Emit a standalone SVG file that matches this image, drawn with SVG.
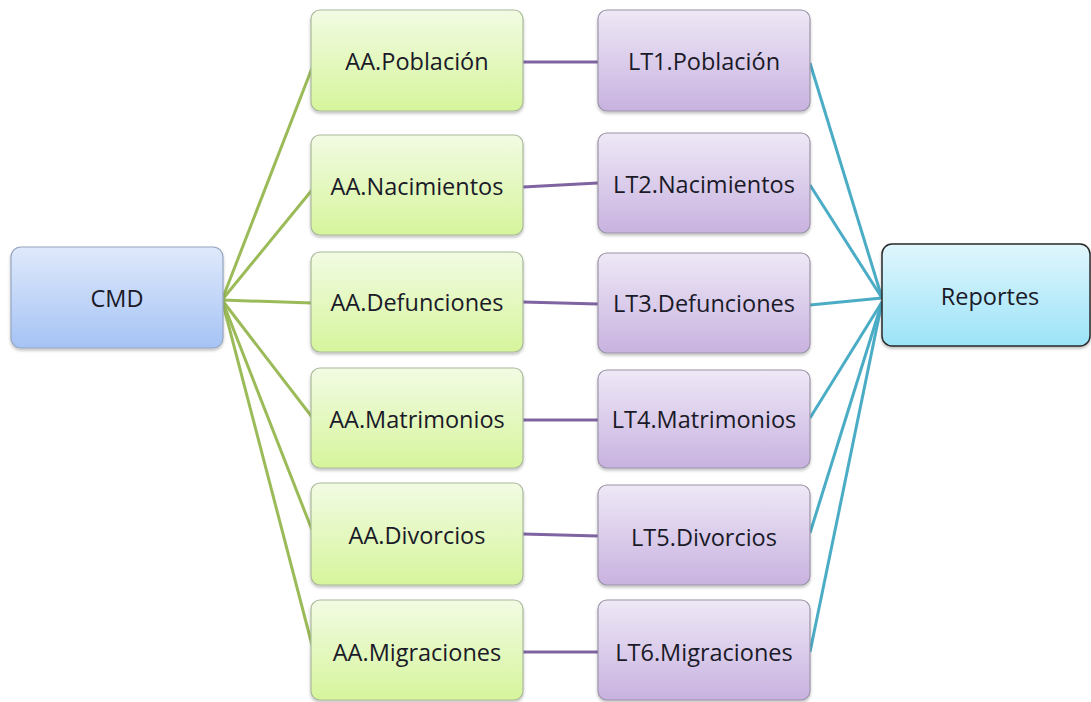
<svg xmlns="http://www.w3.org/2000/svg" width="1091" height="702" viewBox="0 0 1091 702">
<defs>
<linearGradient id="gBlue" x1="0" y1="0" x2="0" y2="1"><stop offset="0" stop-color="#dfe9fb"/><stop offset="1" stop-color="#a5c3f5"/></linearGradient>
<linearGradient id="gGreen" x1="0" y1="0" x2="0" y2="1"><stop offset="0" stop-color="#f2fbe3"/><stop offset="1" stop-color="#d6f59c"/></linearGradient>
<linearGradient id="gPurple" x1="0" y1="0" x2="0" y2="1"><stop offset="0" stop-color="#eee8f6"/><stop offset="1" stop-color="#c8b2e0"/></linearGradient>
<linearGradient id="gCyan" x1="0" y1="0" x2="0" y2="1"><stop offset="0" stop-color="#e0f6fd"/><stop offset="1" stop-color="#9ce3f8"/></linearGradient>
<filter id="sh" x="-10%" y="-10%" width="120%" height="130%"><feDropShadow dx="0" dy="2" stdDeviation="1.5" flood-color="#000" flood-opacity="0.25"/></filter>
</defs>
<style>
text{font-family:"Open Sans","Liberation Sans",sans-serif;font-size:23.5px;fill:#1a1a28;text-anchor:middle;dominant-baseline:central}
.b{stroke-width:1.2;filter:url(#sh)}
.aa{fill:url(#gGreen);stroke:#a9b99a}
.lt{fill:url(#gPurple);stroke:#9c94a8}
.cg{stroke:#9bbb59;stroke-width:3;fill:none}
.cp{stroke:#8064a2;stroke-width:3;fill:none}
.cb{stroke:#4bacc6;stroke-width:3;fill:none}
</style>
<rect width="1091" height="702" fill="#ffffff"/>
<g id="connectors">
<line class="cg" x1="222" y1="300" x2="312" y2="68"/>
<line class="cg" x1="222" y1="300" x2="312" y2="190"/>
<line class="cg" x1="222" y1="300" x2="312" y2="303"/>
<line class="cg" x1="222" y1="300" x2="312" y2="417"/>
<line class="cg" x1="222" y1="300" x2="312" y2="530"/>
<line class="cg" x1="222" y1="300" x2="312" y2="645"/>
<line class="cp" x1="523" y1="62" x2="598" y2="62"/>
<line class="cp" x1="523" y1="187" x2="598" y2="183"/>
<line class="cp" x1="523" y1="302" x2="598" y2="304"/>
<line class="cp" x1="523" y1="420" x2="598" y2="420"/>
<line class="cp" x1="523" y1="534" x2="598" y2="536"/>
<line class="cp" x1="523" y1="652" x2="598" y2="652"/>
<line class="cb" x1="810" y1="63" x2="882" y2="298"/>
<line class="cb" x1="810" y1="185" x2="882" y2="298"/>
<line class="cb" x1="810" y1="305" x2="882" y2="298"/>
<line class="cb" x1="810" y1="418" x2="882" y2="302"/>
<line class="cb" x1="810" y1="533" x2="882" y2="302"/>
<line class="cb" x1="810" y1="652" x2="882" y2="302"/>
</g>
<g id="cmd"><rect class="b" x="11" y="247" width="212" height="101" rx="10" fill="url(#gBlue)" stroke="#95a6c0"/><text x="117" y="298">CMD</text></g>
<g id="aa-poblacion"><rect class="b aa" x="311" y="10" width="212" height="101" rx="9"/><text x="417" y="61">AA.Población</text></g>
<g id="aa-nacimientos"><rect class="b aa" x="311" y="135" width="212" height="100" rx="9"/><text x="417" y="186">AA.Nacimientos</text></g>
<g id="aa-defunciones"><rect class="b aa" x="311" y="252" width="212" height="100" rx="9"/><text x="417" y="302">AA.Defunciones</text></g>
<g id="aa-matrimonios"><rect class="b aa" x="311" y="368" width="212" height="100" rx="9"/><text x="417" y="419">AA.Matrimonios</text></g>
<g id="aa-divorcios"><rect class="b aa" x="311" y="483" width="212" height="102" rx="9"/><text x="417" y="535">AA.Divorcios</text></g>
<g id="aa-migraciones"><rect class="b aa" x="311" y="600" width="212" height="100" rx="9"/><text x="417" y="652">AA.Migraciones</text></g>
<g id="lt1"><rect class="b lt" x="598" y="10" width="212" height="101" rx="9"/><text x="704" y="61">LT1.Población</text></g>
<g id="lt2"><rect class="b lt" x="598" y="133" width="212" height="100" rx="9"/><text x="704" y="184">LT2.Nacimientos</text></g>
<g id="lt3"><rect class="b lt" x="598" y="253" width="212" height="100" rx="9"/><text x="704" y="303">LT3.Defunciones</text></g>
<g id="lt4"><rect class="b lt" x="598" y="370" width="212" height="98" rx="9"/><text x="704" y="419">LT4.Matrimonios</text></g>
<g id="lt5"><rect class="b lt" x="598" y="485" width="212" height="100" rx="9"/><text x="704" y="537">LT5.Divorcios</text></g>
<g id="lt6"><rect class="b lt" x="598" y="600" width="212" height="100" rx="9"/><text x="704" y="652">LT6.Migraciones</text></g>
<g id="reportes"><rect x="882" y="244" width="208" height="102" rx="10" fill="url(#gCyan)" stroke="#2a2a2a" stroke-width="1.5" filter="url(#sh)"/><text x="990" y="296">Reportes</text></g>
</svg>
